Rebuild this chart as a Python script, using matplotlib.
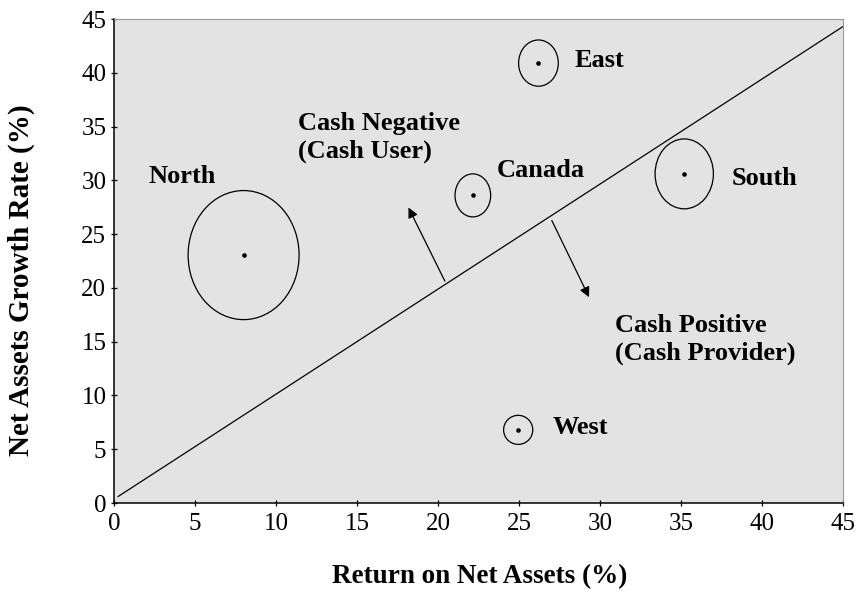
import matplotlib
matplotlib.use('Agg')
import matplotlib.pyplot as plt
from matplotlib.patches import Ellipse

plt.rcParams['font.family'] = ['Liberation Serif', 'DejaVu Serif']

# regions: position (ROA, growth) and bubble size in data units
names = ['North', 'East', 'Canada', 'South', 'West']
roa = [8.0, 26.2, 22.15, 35.2, 24.95]
growth = [23.05, 40.9, 28.6, 30.6, 6.8]
bw = [6.85, 2.45, 2.2, 3.6, 1.8]
bh = [12.0, 4.3, 4.0, 6.5, 2.7]
label_x = [2.1, 28.46, 23.64, 38.15, 27.1]
label_y = [29.75, 40.56, 30.31, 29.56, 6.41]

# sustainable growth line
line_x = [0.25, 45]
line_y = [0.6, 44.3]

fig = plt.figure(figsize=(8.6, 5.93), dpi=100)
ax = fig.add_axes([114/860, 90/593, 729/860, 484/593])
ax.set_facecolor('#e3e3e3')

ax.plot(line_x, line_y, color='black', lw=0.9)

for i in range(len(names)):
    e = Ellipse((roa[i], growth[i]), bw[i], bh[i], fill=False, ec='black', lw=0.9)
    ax.add_patch(e)
    ax.plot(roa[i], growth[i], 'o', color='black', ms=2.3)
    ax.text(label_x[i], label_y[i], names[i], fontsize=19, fontweight='bold',
            ha='left', va='baseline')

ax.annotate('', xy=(18.1, 27.7), xytext=(20.5, 20.4),
            arrowprops=dict(arrowstyle='-|>', color='black', lw=0.9, mutation_scale=15))
ax.annotate('', xy=(29.4, 18.9), xytext=(26.95, 26.5),
            arrowprops=dict(arrowstyle='-|>', color='black', lw=0.9, mutation_scale=15))

ax.text(11.36, 32.07, 'Cash Negative\n(Cash User)', fontsize=19, fontweight='bold',
        ha='left', va='baseline', linespacing=1.3)
ax.text(30.93, 13.3, 'Cash Positive\n(Cash Provider)', fontsize=19, fontweight='bold',
        ha='left', va='baseline', linespacing=1.3)

ax.set_xlim(0, 45)
ax.set_ylim(0, 45)
ax.set_xticks(range(0, 46, 5))
ax.set_yticks(range(0, 46, 5))
ax.tick_params(direction='inout', length=5, width=0.9, labelsize=18, pad=3)
ax.tick_params(axis='x', pad=5)
ax.spines['top'].set_color('#999999')
ax.spines['right'].set_color('#999999')
ax.spines['left'].set_linewidth(1.1)
ax.spines['bottom'].set_linewidth(1.1)

ax.set_xlabel('Return on Net Assets (%)', fontsize=19.5, fontweight='bold')
ax.set_ylabel('Net Assets Growth Rate (%)', fontsize=21, fontweight='bold')
ax.xaxis.set_label_coords(0.502, -0.165)
ax.xaxis.label.set_verticalalignment('baseline')
ax.yaxis.set_label_coords(-0.1166, 0.461)
ax.yaxis.label.set_verticalalignment('baseline')

fig.savefig('out.png', dpi=100)
